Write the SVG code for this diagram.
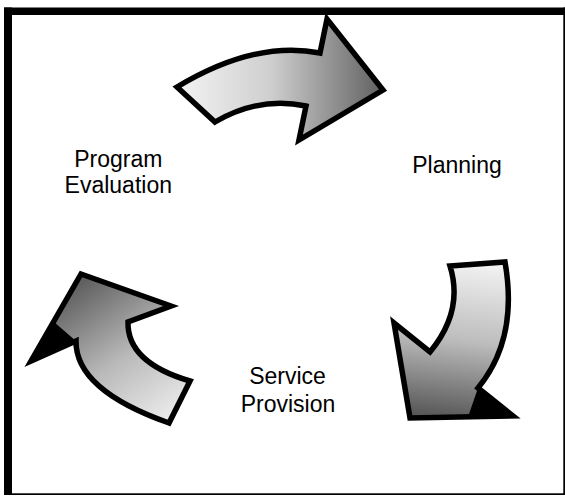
<svg xmlns="http://www.w3.org/2000/svg" width="565" height="496" viewBox="0 0 565 496">
<style>
.lbl{font-family:"Liberation Sans",Arial,sans-serif;font-size:23px;fill:#000;text-anchor:middle}
.arrow{stroke:#000;stroke-width:5.5;stroke-linejoin:miter;stroke-miterlimit:10}
.frame{fill:#000}
</style>
<defs>
<linearGradient id="gTop" gradientUnits="userSpaceOnUse" x1="176" y1="80" x2="385" y2="80">
<stop offset="0" stop-color="#f4f4f4"/>
<stop offset="0.45" stop-color="#cfcfcf"/>
<stop offset="1" stop-color="#5e5e5e"/>
</linearGradient>
<linearGradient id="gRight" gradientUnits="userSpaceOnUse" x1="470" y1="262" x2="450" y2="418">
<stop offset="0" stop-color="#f2f2f2"/>
<stop offset="0.5" stop-color="#bdbdbd"/>
<stop offset="1" stop-color="#585858"/>
</linearGradient>
<linearGradient id="gLeft" gradientUnits="userSpaceOnUse" x1="85" y1="280" x2="180" y2="420">
<stop offset="0" stop-color="#606060"/>
<stop offset="0.5" stop-color="#b8b8b8"/>
<stop offset="1" stop-color="#f0f0f0"/>
</linearGradient>
</defs>
<rect x="0" y="0" width="565" height="496" fill="#fff"/>
<g id="frame">
<rect class="frame" x="4" y="7.5" width="561" height="7.5"/>
<rect class="frame" x="4" y="7.5" width="8" height="487.5"/>
<rect class="frame" x="563.3" y="7.5" width="1.7" height="487.5"/>
<rect class="frame" x="4" y="493.3" width="561" height="1.7"/>
</g>
<g id="connectors">
<g id="arrow-top">
<path class="arrow" fill="url(#gTop)" d="M177,87 Q255,40 320,53 L327,19 L383,90 L299,140 L306,106 Q259.5,96 215,122 Z"/>
</g>
<g id="arrow-right">
<path class="arrow" fill="url(#gRight)" d="M450,266 L505,262 Q518.5,339 478,388 L513,416 L410,418 L394,323 L430,352 Q464,311 450,266 Z"/>
<polygon points="478,388 513,416 468,417" fill="#000"/>
</g>
<g id="arrow-left">
<path class="arrow" fill="url(#gLeft)" d="M81,274 L171,306 L128,322 Q127,362.5 190,381 L169,423 Q75.5,390 76,341 L31,361 Z"/>
<polygon points="31,361 54,322 76,341" fill="#000"/>
</g>
</g>
<g id="node-planning"><text class="lbl" x="457" y="173.3">Planning</text></g>
<g id="node-evaluation"><text class="lbl" x="118.3" y="166.7">Program</text><text class="lbl" x="118.3" y="193.3">Evaluation</text></g>
<g id="node-service"><text class="lbl" x="287.5" y="384.3">Service</text><text class="lbl" x="288" y="412.3">Provision</text></g>
</svg>
